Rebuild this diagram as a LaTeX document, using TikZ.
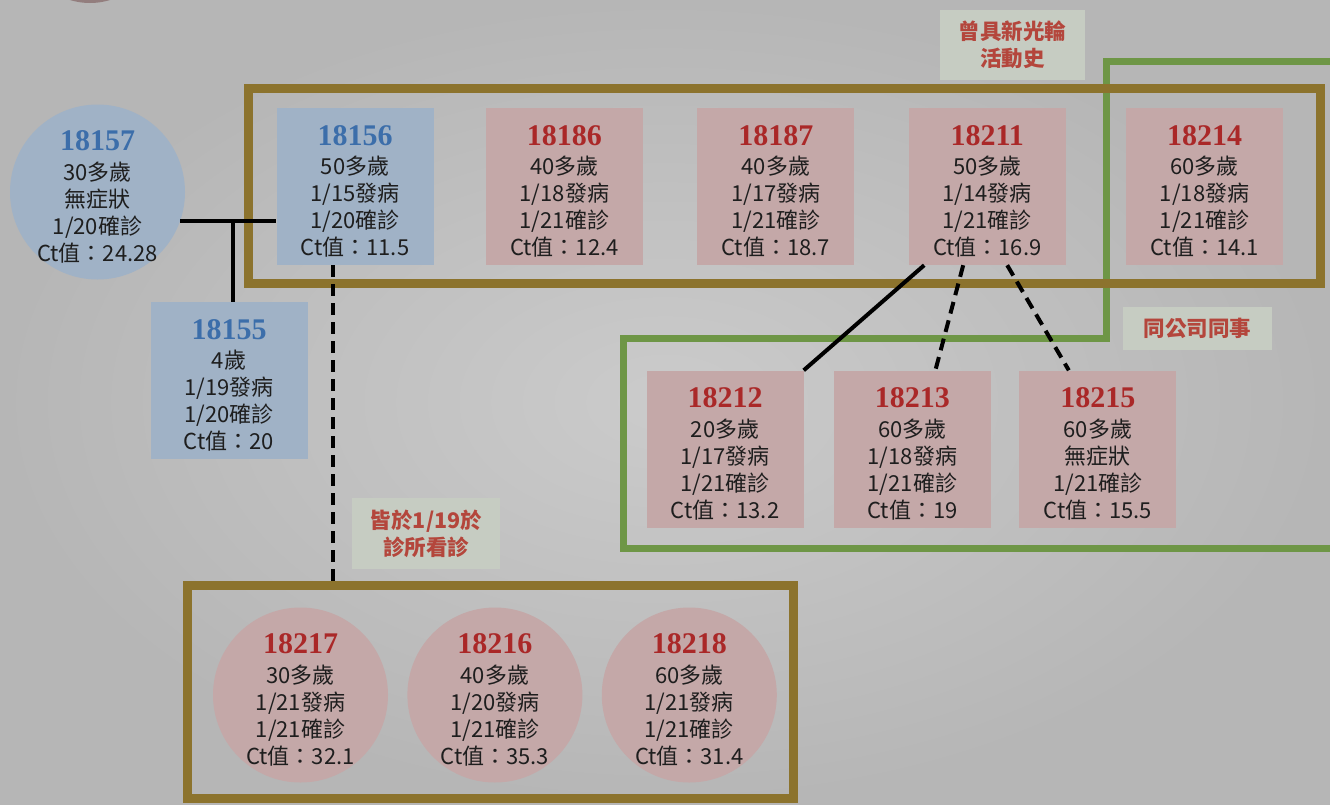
\documentclass[tikz,border=0pt]{standalone}
\usepackage{fontspec}
\newfontfamily\cjkfont{Noto Sans CJK TC}
\newfontfamily\numfont{Liberation Serif}
\usetikzlibrary{positioning}
\definecolor{bgin}{HTML}{CBCBCB}
\definecolor{bgout}{HTML}{B6B6B6}
\definecolor{caseblue}{HTML}{A0B2C6}
\definecolor{casepink}{HTML}{C4A8A8}
\definecolor{titleblue}{HTML}{3C6EAA}
\definecolor{titlered}{HTML}{AA2828}
\definecolor{bodytext}{HTML}{1E1E1E}
\definecolor{goldline}{HTML}{8C732D}
\definecolor{greenline}{HTML}{6E9646}
\definecolor{notefill}{HTML}{C6CCC2}
\definecolor{notered}{HTML}{B4463C}
\newcommand{\bnum}[1]{{\rule{0pt}{30pt}\numfont\bfseries\fontsize{30}{30}\selectfont\textcolor{titleblue}{#1}}\\[2.5pt]}
\newcommand{\rnum}[1]{{\rule{0pt}{30pt}\numfont\bfseries\fontsize{30}{30}\selectfont\textcolor{titlered}{#1}}\\[2.5pt]}
\tikzset{
    case/.style={align=center, text=bodytext, font=\cjkfont\fontsize{22}{27}\selectfont},
    bluecase/.style={case, rectangle, fill=caseblue, inner sep=0pt, minimum width=157pt, minimum height=157pt},
    pinkcase/.style={case, rectangle, fill=casepink, inner sep=0pt, minimum width=157pt, minimum height=157pt},
    bluering/.style={case, circle, fill=caseblue, inner sep=-14pt, minimum size=175pt},
    pinkring/.style={case, circle, fill=casepink, inner sep=-14pt, minimum size=175pt},
    note/.style={fill=notefill, text=notered, align=center, inner sep=0pt, font=\cjkfont\bfseries\fontsize{21.5}{27}\selectfont},
    link/.style={line width=4pt},
    dashlink/.style={link, dash pattern=on 12pt off 7pt},
    goldbox/.style={draw=goldline, line width=9pt},
    greenbox/.style={draw=greenline, line width=7pt, line join=miter}
}
\begin{document}
\begin{tikzpicture}[x=1pt, y=-1pt]
    \useasboundingbox (0,0) rectangle (1330,804);
    \clip (0,0) rectangle (1330,804);
    \shade[inner color=bgin, outer color=bgout] (0,0) rectangle (1330,804);
    \fill[casepink!75!black] (90,-65) circle (68pt);

    \draw[greenbox] (1345,61) -- (1106,61) -- (1106,338) -- (623,338) -- (623,548) -- (1345,548);
    \draw[goldbox] (248,88) rectangle (1320,283);
    \draw[goldbox] (187,585) rectangle (793,798);

    \node[note, minimum width=145pt, minimum height=70pt] (history) at (1012.5,45) {曾具新光輪\\活動史};
    \node[note, minimum width=149pt, minimum height=43pt] (coworker) at (1197.5,328.5) {同公司同事};
    \node[note, minimum width=148pt, minimum height=71pt] (clinicnote) at (426,533.5) {皆於1/19於\\診所看診};

    \node[bluering] (c18157) at (97.5,192) {\bnum{18157}30多歲\\無症狀\\1/20確診\\Ct值：24.28};
    \node[bluecase] (c18156) at (355,186.5) {\bnum{18156}50多歲\\1/15發病\\1/20確診\\Ct值：11.5};
    \node[pinkcase, right=52pt of c18156] (c18186) {\rnum{18186}40多歲\\1/18發病\\1/21確診\\Ct值：12.4};
    \node[pinkcase, right=54pt of c18186] (c18187) {\rnum{18187}40多歲\\1/17發病\\1/21確診\\Ct值：18.7};
    \node[pinkcase, right=54pt of c18187] (c18211) {\rnum{18211}50多歲\\1/14發病\\1/21確診\\Ct值：16.9};
    \node[pinkcase, right=60pt of c18211] (c18214) {\rnum{18214}60多歲\\1/18發病\\1/21確診\\Ct值：14.1};
    \node[bluecase] (c18155) at (229,380.5) {\bnum{18155}4歲\\1/19發病\\1/20確診\\Ct值：20};

    \node[pinkcase] (c18212) at (725,449) {\rnum{18212}20多歲\\1/17發病\\1/21確診\\Ct值：13.2};
    \node[pinkcase, right=30pt of c18212] (c18213) {\rnum{18213}60多歲\\1/18發病\\1/21確診\\Ct值：19};
    \node[pinkcase, right=28pt of c18213] (c18215) {\rnum{18215}60多歲\\無症狀\\1/21確診\\Ct值：15.5};

    \node[pinkring] (c18217) at (300.5,695) {\rnum{18217}30多歲\\1/21發病\\1/21確診\\Ct值：32.1};
    \node[pinkring, right=19pt of c18217] (c18216) {\rnum{18216}40多歲\\1/20發病\\1/21確診\\Ct值：35.3};
    \node[pinkring, right=19pt of c18216] (c18218) {\rnum{18218}60多歲\\1/21發病\\1/21確診\\Ct值：31.4};
    \coordinate (clinictop) at (333,585);

    \draw[link] (c18157.-19) -- (c18157.-19 -| c18156.west);
    \draw[link] ([xshift=4pt]c18155.north) -- ([xshift=4pt]c18155.north |- c18157.-19);
    \draw[dashlink] ([xshift=-22pt]c18156.south) -- ([xshift=-22pt]c18156.south |- clinictop);
    \draw[link] ([xshift=-63pt]c18211.south) -- (c18212.north east);
    \draw[dashlink] ([xshift=-24pt]c18211.south) -- ([xshift=23pt]c18213.north);
    \draw[dashlink] ([xshift=20pt]c18211.south) -- ([xshift=-29pt]c18215.north);
\end{tikzpicture}
\end{document}
